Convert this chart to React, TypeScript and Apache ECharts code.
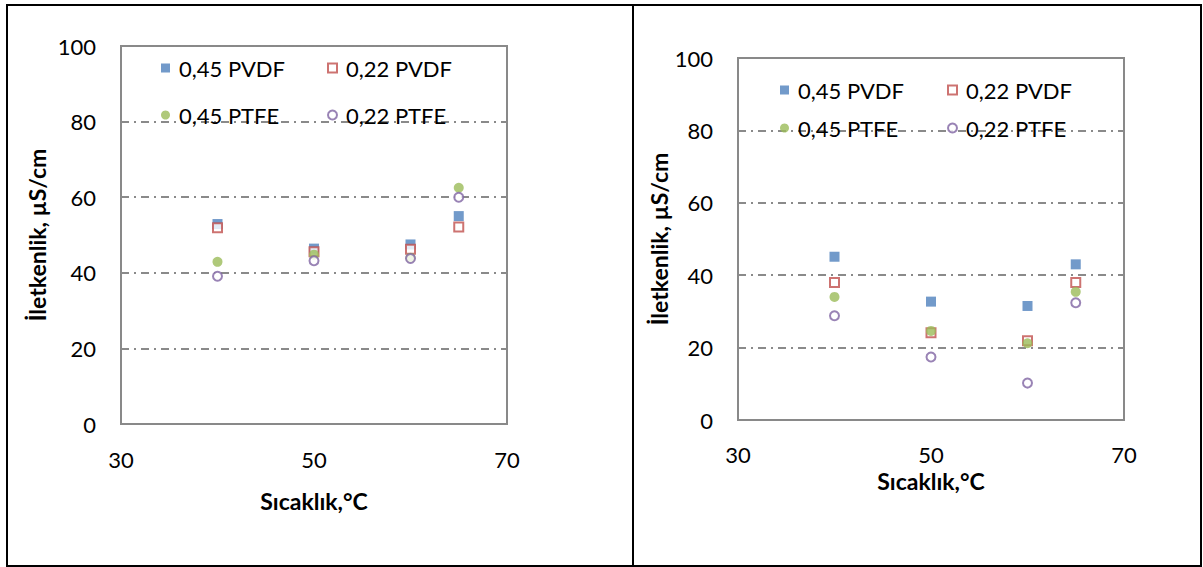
import React, { useEffect, useRef } from "react";
import * as echarts from "echarts";

// Measurement temperatures (°C)
const temperatures = [40, 50, 60, 65];
const seriesNames = ["0,45 PVDF", "0,22 PVDF", "0,45 PTFE", "0,22 PTFE"];

// Left panel conductivity values (µS/cm)
const leftPvdf045 = [52.9, 46.4, 47.5, 55.0];
const leftPvdf022 = [51.9, 45.6, 46.2, 52.1];
const leftPtfe045 = [42.9, 44.8, 44.0, 62.5];
const leftPtfe022 = [39.1, 43.2, 43.8, 60.0];

// Right panel conductivity values (µS/cm)
const rightPvdf045 = [45.1, 32.7, 31.5, 43.0];
const rightPvdf022 = [38.0, 24.1, 21.9, 38.0];
const rightPtfe045 = [34.0, 24.6, 21.2, 35.4];
const rightPtfe022 = [28.8, 17.4, 10.2, 32.4];

// Axis tick labels
const xTickLabels = [30, 50, 70];
const yTickLabels = [0, 20, 40, 60, 80, 100];

const FONT = "Lato";
const COLORS = ["#4F81BD", "#C0504D", "#9BBB59", "#8064A2"];
const SYMBOLS = ["rect", "rect", "circle", "circle"];
const HOLLOW = [false, true, false, true];

function markerStyle(i: number) {
  return HOLLOW[i]
    ? { color: "#ffffff", borderColor: COLORS[i], borderWidth: 2 }
    : { color: COLORS[i], borderWidth: 0 };
}

// Later series are painted over earlier ones
function buildSeries(panel: number, values: number[][]) {
  return values.map((vals, i) => ({
    name: seriesNames[i],
    type: "scatter",
    xAxisIndex: panel,
    yAxisIndex: panel,
    symbol: SYMBOLS[i],
    symbolSize: HOLLOW[i] ? 9 : 10,
    itemStyle: markerStyle(i),
    data: temperatures.map((t, k) => [t, vals[k]]),
  }));
}

function buildLegends(cols: number[], rows: number[]) {
  return seriesNames.map((name, i) => ({
    left: cols[i % 2],
    top: rows[Math.floor(i / 2)],
    padding: 0,
    selectedMode: false,
    itemWidth: 9,
    itemHeight: 9,
    textStyle: {
      fontFamily: FONT,
      fontSize: 22,
      lineHeight: 22,
      color: "#000",
      padding: [0, 0, 0, 4],
    },
    data: [{ name, icon: SYMBOLS[i], itemStyle: markerStyle(i) }],
  }));
}

function xAxis(gridIndex: number, nameGap: number, labelMargin: number) {
  return {
    type: "value",
    gridIndex,
    min: 30,
    max: 70,
    interval: 10,
    name: "Sıcaklık,°C",
    nameLocation: "middle",
    nameGap,
    nameTextStyle: { fontFamily: FONT, fontSize: 23, fontWeight: "bold", color: "#000" },
    axisLine: { show: false },
    axisTick: { show: false },
    splitLine: { show: false },
    axisLabel: {
      margin: labelMargin,
      fontFamily: FONT,
      fontSize: 22,
      color: "#000",
      formatter: (v: number) => (xTickLabels.includes(v) ? String(v) : ""),
    },
  };
}

function yAxis(gridIndex: number, nameGap: number, showMaxLine: boolean) {
  return {
    type: "value",
    gridIndex,
    min: 0,
    max: 100,
    interval: 20,
    name: "İletkenlik, µS/cm",
    nameLocation: "middle",
    nameRotate: 90,
    nameGap,
    nameTextStyle: { fontFamily: FONT, fontSize: 23, fontWeight: "bold", color: "#000" },
    axisLine: { show: false },
    axisTick: { show: false },
    splitLine: {
      show: true,
      showMinLine: false,
      showMaxLine,
      lineStyle: { color: "#8a8a8a", width: 2, type: [8, 5, 2, 5] },
    },
    axisLabel: {
      margin: 25,
      fontFamily: FONT,
      fontSize: 22,
      color: "#000",
      formatter: (v: number) => (yTickLabels.includes(v) ? String(v) : ""),
    },
  };
}

export default function App() {
  const ref = useRef<HTMLDivElement>(null);

  useEffect(() => {
    if (!ref.current) return;
    const chart = echarts.init(ref.current, undefined, { renderer: "svg" });
    const gridStyle = {
      show: true,
      borderColor: "#898989",
      borderWidth: 2,
      backgroundColor: "transparent",
      containLabel: false,
    };
    chart.setOption({
      animation: false,
      backgroundColor: "#ffffff",
      grid: [
        { ...gridStyle, left: 121, top: 46, width: 386, height: 378 },
        { ...gridStyle, left: 738, top: 58, width: 386, height: 362 },
      ],
      xAxis: [xAxis(0, 65, 24), xAxis(1, 45, 23)],
      yAxis: [yAxis(0, 73, true), yAxis(1, 64, false)],
      legend: [
        ...buildLegends([161, 327], [57, 104]),
        ...buildLegends([780, 947], [79, 117]),
      ],
      series: [
        ...buildSeries(0, [leftPvdf045, leftPvdf022, leftPtfe045, leftPtfe022]),
        ...buildSeries(1, [rightPvdf045, rightPvdf022, rightPtfe045, rightPtfe022]),
      ],
      graphic: [
        {
          type: "rect",
          shape: { x: 7, y: 5, width: 1194, height: 561 },
          style: { fill: "none", stroke: "#000", lineWidth: 2 },
          silent: true,
        },
        {
          type: "line",
          shape: { x1: 633, y1: 5, x2: 633, y2: 566 },
          style: { stroke: "#000", lineWidth: 2 },
          silent: true,
        },
      ],
    });
    return () => chart.dispose();
  }, []);

  return (
    <div
      ref={ref}
      style={{ position: "absolute", left: 0, top: 0, width: 1203, height: 567, background: "#fff" }}
    />
  );
}
